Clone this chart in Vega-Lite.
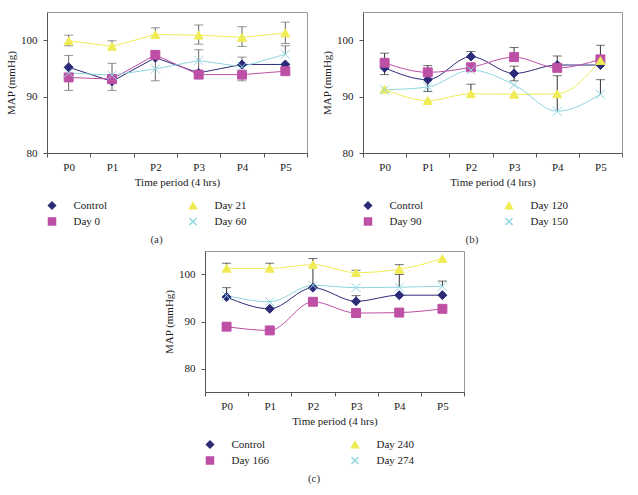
{
  "$schema": "https://vega.github.io/schema/vega-lite/v6.json",
  "padding": {"left": 5, "top": 11, "right": 0, "bottom": 0},
  "config": {
    "font": "Liberation Serif",
    "view": {"stroke": "#999", "strokeWidth": 1},
    "axis": {"labelFont": "Liberation Serif", "titleFont": "Liberation Serif", "labelFontSize": 11, "titleFontSize": 11, "titleFontWeight": "normal", "labelColor": "#222", "titleColor": "#222", "domainColor": "#555", "tickColor": "#555", "grid": false, "tickSize": 4},
    "axisY": {"labelPadding": 6, "titlePadding": 4, "labelOverlap": false},
    "axisX": {"labelPadding": 4, "titlePadding": 4, "labelAngle": 0},
    "legend": {"columns": 2, "columnPadding": 75, "rowPadding": 3, "symbolSize": 49, "symbolOffset": 4.5, "labelOffset": 16, "labelFont": "Liberation Serif", "labelFontSize": 11, "labelColor": "#222", "padding": 0}
  },
  "datasets": {
    "a": [
      {"period": "P0", "series": "Control", "map": 95.2}, {"period": "P1", "series": "Control", "map": 92.7}, {"period": "P2", "series": "Control", "map": 96.9}, {"period": "P3", "series": "Control", "map": 94.2}, {"period": "P4", "series": "Control", "map": 95.7}, {"period": "P5", "series": "Control", "map": 95.7},
      {"period": "P0", "series": "Day 0", "map": 93.4}, {"period": "P1", "series": "Day 0", "map": 93.1}, {"period": "P2", "series": "Day 0", "map": 97.4}, {"period": "P3", "series": "Day 0", "map": 93.9}, {"period": "P4", "series": "Day 0", "map": 93.9}, {"period": "P5", "series": "Day 0", "map": 94.5},
      {"period": "P0", "series": "Day 21", "map": 99.9}, {"period": "P1", "series": "Day 21", "map": 98.9}, {"period": "P2", "series": "Day 21", "map": 101.0}, {"period": "P3", "series": "Day 21", "map": 100.9}, {"period": "P4", "series": "Day 21", "map": 100.5}, {"period": "P5", "series": "Day 21", "map": 101.3},
      {"period": "P0", "series": "Day 60", "map": 94.2}, {"period": "P1", "series": "Day 60", "map": 93.8}, {"period": "P2", "series": "Day 60", "map": 94.9}, {"period": "P3", "series": "Day 60", "map": 96.4}, {"period": "P4", "series": "Day 60", "map": 95.3}, {"period": "P5", "series": "Day 60", "map": 97.5}
    ],
    "ea": [
      {"period": "P0", "from": 95.2, "to": 97.3}, {"period": "P0", "from": 95.2, "to": 91.1}, {"period": "P0", "from": 99.9, "to": 100.9}, {"period": "P0", "from": 99.9, "to": 99.0},
      {"period": "P1", "from": 92.7, "to": 95.9}, {"period": "P1", "from": 92.7, "to": 91.1}, {"period": "P1", "from": 98.9, "to": 99.9},
      {"period": "P2", "from": 101.0, "to": 102.2}, {"period": "P2", "from": 96.9, "to": 92.8},
      {"period": "P3", "from": 100.9, "to": 102.7}, {"period": "P3", "from": 100.9, "to": 99.3}, {"period": "P3", "from": 94.2, "to": 98.3},
      {"period": "P4", "from": 100.5, "to": 102.4}, {"period": "P4", "from": 100.5, "to": 98.9}, {"period": "P4", "from": 95.7, "to": 97.0}, {"period": "P4", "from": 93.9, "to": 92.8},
      {"period": "P5", "from": 101.3, "to": 103.2}, {"period": "P5", "from": 101.3, "to": 99.4}, {"period": "P5", "from": 97.5, "to": 99.0}
    ],
    "b": [
      {"period": "P0", "series": "Control", "map": 95.1}, {"period": "P1", "series": "Control", "map": 93.0}, {"period": "P2", "series": "Control", "map": 97.1}, {"period": "P3", "series": "Control", "map": 94.1}, {"period": "P4", "series": "Control", "map": 95.6}, {"period": "P5", "series": "Control", "map": 95.6},
      {"period": "P0", "series": "Day 90", "map": 96.0}, {"period": "P1", "series": "Day 90", "map": 94.3}, {"period": "P2", "series": "Day 90", "map": 95.2}, {"period": "P3", "series": "Day 90", "map": 97.0}, {"period": "P4", "series": "Day 90", "map": 95.1}, {"period": "P5", "series": "Day 90", "map": 96.6},
      {"period": "P0", "series": "Day 120", "map": 91.3}, {"period": "P1", "series": "Day 120", "map": 89.3}, {"period": "P2", "series": "Day 120", "map": 90.5}, {"period": "P3", "series": "Day 120", "map": 90.4}, {"period": "P4", "series": "Day 120", "map": 90.5}, {"period": "P5", "series": "Day 120", "map": 96.4},
      {"period": "P0", "series": "Day 150", "map": 91.2}, {"period": "P1", "series": "Day 150", "map": 91.7}, {"period": "P2", "series": "Day 150", "map": 94.7}, {"period": "P3", "series": "Day 150", "map": 92.1}, {"period": "P4", "series": "Day 150", "map": 87.4}, {"period": "P5", "series": "Day 150", "map": 90.4}
    ],
    "eb": [
      {"period": "P0", "from": 96.0, "to": 97.7}, {"period": "P0", "from": 95.1, "to": 93.9},
      {"period": "P1", "from": 94.3, "to": 95.5}, {"period": "P1", "from": 93.0, "to": 90.9},
      {"period": "P2", "from": 97.1, "to": 98.0}, {"period": "P2", "from": 90.5, "to": 92.2},
      {"period": "P3", "from": 97.0, "to": 98.7}, {"period": "P3", "from": 94.1, "to": 95.4}, {"period": "P3", "from": 94.1, "to": 92.8},
      {"period": "P4", "from": 95.6, "to": 97.2}, {"period": "P4", "from": 87.4, "to": 93.7},
      {"period": "P5", "from": 96.6, "to": 99.1}, {"period": "P5", "from": 90.4, "to": 93.0}
    ],
    "c": [
      {"period": "P0", "series": "Control", "map": 95.2}, {"period": "P1", "series": "Control", "map": 92.7}, {"period": "P2", "series": "Control", "map": 97.2}, {"period": "P3", "series": "Control", "map": 94.3}, {"period": "P4", "series": "Control", "map": 95.6}, {"period": "P5", "series": "Control", "map": 95.6},
      {"period": "P0", "series": "Day 166", "map": 88.9}, {"period": "P1", "series": "Day 166", "map": 88.1}, {"period": "P2", "series": "Day 166", "map": 94.2}, {"period": "P3", "series": "Day 166", "map": 91.8}, {"period": "P4", "series": "Day 166", "map": 91.9}, {"period": "P5", "series": "Day 166", "map": 92.7},
      {"period": "P0", "series": "Day 240", "map": 101.3}, {"period": "P1", "series": "Day 240", "map": 101.3}, {"period": "P2", "series": "Day 240", "map": 102.1}, {"period": "P3", "series": "Day 240", "map": 100.4}, {"period": "P4", "series": "Day 240", "map": 101.1}, {"period": "P5", "series": "Day 240", "map": 103.4},
      {"period": "P0", "series": "Day 274", "map": 95.5}, {"period": "P1", "series": "Day 274", "map": 94.2}, {"period": "P2", "series": "Day 274", "map": 97.7}, {"period": "P3", "series": "Day 274", "map": 97.2}, {"period": "P4", "series": "Day 274", "map": 97.3}, {"period": "P5", "series": "Day 274", "map": 97.5}
    ],
    "ec": [
      {"period": "P0", "from": 101.3, "to": 102.4}, {"period": "P0", "from": 95.2, "to": 97.2},
      {"period": "P1", "from": 101.3, "to": 102.4},
      {"period": "P2", "from": 97.2, "to": 103.4},
      {"period": "P3", "from": 100.4, "to": 100.9}, {"period": "P3", "from": 94.3, "to": 95.5},
      {"period": "P4", "from": 101.1, "to": 102.1}, {"period": "P4", "from": 97.3, "to": 100.0},
      {"period": "P5", "from": 97.5, "to": 98.6}
    ]
  },
  "resolve": {"scale": {"x": "independent", "y": "independent", "fill": "independent", "stroke": "independent", "shape": "independent"}, "legend": {"fill": "independent", "stroke": "independent", "shape": "independent"}},
  "spacing": 4,
  "center": true,
  "vconcat": [
    {
      "spacing": 13,
      "resolve": {"scale": {"x": "independent", "y": "independent", "fill": "independent", "stroke": "independent", "shape": "independent"}, "legend": {"fill": "independent", "stroke": "independent", "shape": "independent"}},
      "hconcat": [
        {
          "width": 260, "height": 141,
          "title": {"text": "(a)", "orient": "bottom", "anchor": "middle", "frame": "bounds", "font": "Liberation Serif", "fontSize": 11, "fontWeight": "normal", "color": "#333", "offset": 6},
          "encoding": {"x": {"field": "period", "type": "nominal", "title": "Time period (4 hrs)", "scale": {"type": "band", "domain": ["P0", "P1", "P2", "P3", "P4", "P5"], "paddingInner": 0, "paddingOuter": 0}, "axis": {"tickBand": "extent"}}},
          "layer": [
            {"data": {"name": "ea"}, "mark": {"type": "rule", "color": "#666", "strokeWidth": 1},
             "encoding": {"y": {"field": "from", "type": "quantitative", "title": "MAP (mmHg)", "scale": {"domain": [80, 105], "nice": false, "zero": false}, "axis": {"values": [80, 85, 90, 95, 100], "labelExpr": "datum.value % 10 == 0 ? datum.label : ''"}}, "y2": {"field": "to"}}},
            {"data": {"name": "ea"}, "mark": {"type": "tick", "color": "#666", "size": 9, "thickness": 1},
             "encoding": {"y": {"field": "to", "type": "quantitative", "title": "MAP (mmHg)"}}},
            {"data": {"name": "a"}, "mark": {"type": "line", "strokeWidth": 1},
             "encoding": {"y": {"field": "map", "type": "quantitative", "title": "MAP (mmHg)"},
               "stroke": {"field": "series", "type": "nominal", "title": null, "scale": {"domain": ["Control", "Day 0", "Day 21", "Day 60"], "range": ["#2b2b78", "#bd4fa5", "#f0ec55", "#8fd5df"]}}}},
            {"data": {"name": "a"}, "mark": {"type": "point", "filled": true, "size": 80, "opacity": 1, "strokeWidth": 1},
             "encoding": {"y": {"field": "map", "type": "quantitative", "title": "MAP (mmHg)"},
               "fill": {"field": "series", "type": "nominal", "title": null, "scale": {"domain": ["Control", "Day 0", "Day 21", "Day 60"], "range": ["#2b2b78", "#bd4fa5", "#f0ec55", "#8fd5df"]},
                 "legend": {"orient": "none", "legendX": -5, "legendY": 188, "direction": "vertical", "columns": 2, "columnPadding": 75, "rowPadding": 3, "symbolSize": 49, "symbolOffset": 4.5, "labelOffset": 16, "labelFont": "Liberation Serif", "labelFontSize": 11, "labelColor": "#222", "padding": 0}},
               "stroke": {"field": "series", "type": "nominal", "title": null},
               "shape": {"field": "series", "type": "nominal", "title": null, "scale": {"domain": ["Control", "Day 0", "Day 21", "Day 60"], "range": ["diamond", "square", "triangle-up", "M-1,-1L1,1M-1,1L1,-1"]}}}}
          ]
        },
        {
          "width": 259, "height": 141,
          "title": {"text": "(b)", "orient": "bottom", "anchor": "middle", "frame": "bounds", "font": "Liberation Serif", "fontSize": 11, "fontWeight": "normal", "color": "#333", "offset": 6},
          "encoding": {"x": {"field": "period", "type": "nominal", "title": "Time period (4 hrs)", "scale": {"type": "band", "domain": ["P0", "P1", "P2", "P3", "P4", "P5"], "paddingInner": 0, "paddingOuter": 0}, "axis": {"tickBand": "extent"}}},
          "layer": [
            {"data": {"name": "eb"}, "mark": {"type": "rule", "color": "#333", "strokeWidth": 1},
             "encoding": {"y": {"field": "from", "type": "quantitative", "title": "MAP (mmHg)", "scale": {"domain": [80, 105], "nice": false, "zero": false}, "axis": {"values": [80, 85, 90, 95, 100], "labelExpr": "datum.value % 10 == 0 ? datum.label : ''"}}, "y2": {"field": "to"}}},
            {"data": {"name": "eb"}, "mark": {"type": "tick", "color": "#333", "size": 9, "thickness": 1},
             "encoding": {"y": {"field": "to", "type": "quantitative", "title": "MAP (mmHg)"}}},
            {"data": {"name": "b"}, "mark": {"type": "line", "strokeWidth": 1, "interpolate": "monotone"},
             "encoding": {"y": {"field": "map", "type": "quantitative", "title": "MAP (mmHg)"},
               "stroke": {"field": "series", "type": "nominal", "title": null, "scale": {"domain": ["Control", "Day 90", "Day 120", "Day 150"], "range": ["#2b2b78", "#bd4fa5", "#f0ec55", "#8fd5df"]}}}},
            {"data": {"name": "b"}, "mark": {"type": "point", "filled": true, "size": 80, "opacity": 1, "strokeWidth": 1},
             "encoding": {"y": {"field": "map", "type": "quantitative", "title": "MAP (mmHg)"},
               "fill": {"field": "series", "type": "nominal", "title": null, "scale": {"domain": ["Control", "Day 90", "Day 120", "Day 150"], "range": ["#2b2b78", "#bd4fa5", "#f0ec55", "#8fd5df"]},
                 "legend": {"orient": "none", "legendX": -5, "legendY": 188, "direction": "vertical", "columns": 2, "columnPadding": 75, "rowPadding": 3, "symbolSize": 49, "symbolOffset": 4.5, "labelOffset": 16, "labelFont": "Liberation Serif", "labelFontSize": 11, "labelColor": "#222", "padding": 0}},
               "stroke": {"field": "series", "type": "nominal", "title": null},
               "shape": {"field": "series", "type": "nominal", "title": null, "scale": {"domain": ["Control", "Day 90", "Day 120", "Day 150"], "range": ["diamond", "square", "triangle-up", "M-1,-1L1,1M-1,1L1,-1"]}}}}
          ]
        }
      ]
    },
    {
      "width": 259, "height": 141,
      "title": {"text": "(c)", "orient": "bottom", "anchor": "middle", "frame": "bounds", "font": "Liberation Serif", "fontSize": 11, "fontWeight": "normal", "color": "#333", "offset": 6},
      "encoding": {"x": {"field": "period", "type": "nominal", "title": "Time period (4 hrs)", "scale": {"type": "band", "domain": ["P0", "P1", "P2", "P3", "P4", "P5"], "paddingInner": 0, "paddingOuter": 0}, "axis": {"tickBand": "extent"}}},
      "layer": [
        {"data": {"name": "ec"}, "mark": {"type": "rule", "color": "#333", "strokeWidth": 1},
         "encoding": {"y": {"field": "from", "type": "quantitative", "title": "MAP (mmHg)", "scale": {"domain": [75, 105], "nice": false, "zero": false}, "axis": {"values": [80, 85, 90, 95, 100], "labelExpr": "datum.value % 10 == 0 ? datum.label : ''"}}, "y2": {"field": "to"}}},
        {"data": {"name": "ec"}, "mark": {"type": "tick", "color": "#333", "size": 9, "thickness": 1},
         "encoding": {"y": {"field": "to", "type": "quantitative", "title": "MAP (mmHg)"}}},
        {"data": {"name": "c"}, "mark": {"type": "line", "strokeWidth": 1, "interpolate": "monotone"},
         "encoding": {"y": {"field": "map", "type": "quantitative", "title": "MAP (mmHg)"},
           "stroke": {"field": "series", "type": "nominal", "title": null, "scale": {"domain": ["Control", "Day 166", "Day 240", "Day 274"], "range": ["#2b2b78", "#bd4fa5", "#f0ec55", "#8fd5df"]}}}},
        {"data": {"name": "c"}, "mark": {"type": "point", "filled": true, "size": 80, "opacity": 1, "strokeWidth": 1},
         "encoding": {"y": {"field": "map", "type": "quantitative", "title": "MAP (mmHg)"},
           "fill": {"field": "series", "type": "nominal", "title": null, "scale": {"domain": ["Control", "Day 166", "Day 240", "Day 274"], "range": ["#2b2b78", "#bd4fa5", "#f0ec55", "#8fd5df"]},
             "legend": {"orient": "none", "legendX": -5, "legendY": 188, "direction": "vertical", "columns": 2, "columnPadding": 75, "rowPadding": 3, "symbolSize": 49, "symbolOffset": 4.5, "labelOffset": 16, "labelFont": "Liberation Serif", "labelFontSize": 11, "labelColor": "#222", "padding": 0}},
           "stroke": {"field": "series", "type": "nominal", "title": null},
           "shape": {"field": "series", "type": "nominal", "title": null, "scale": {"domain": ["Control", "Day 166", "Day 240", "Day 274"], "range": ["diamond", "square", "triangle-up", "M-1,-1L1,1M-1,1L1,-1"]}}}}
      ]
    }
  ]
}
